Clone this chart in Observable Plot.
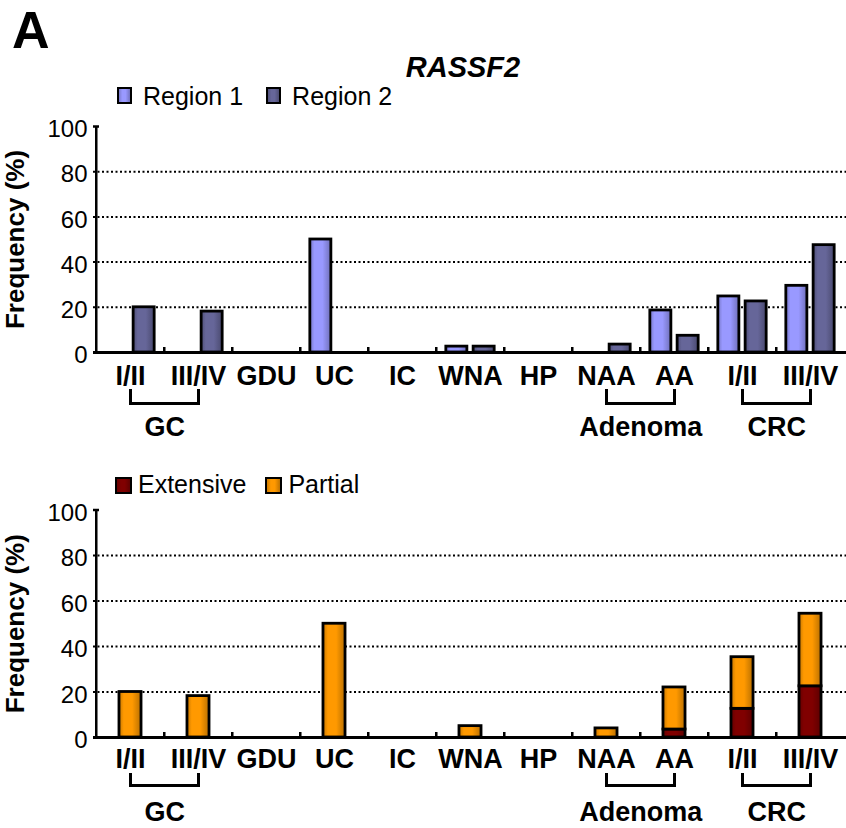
<!DOCTYPE html>
<html><head><meta charset="utf-8">
<script src="https://cdn.jsdelivr.net/npm/d3@7"></script>
<script src="https://cdn.jsdelivr.net/npm/@observablehq/plot@0.6"></script>
<style>
body{margin:0;background:#fff;}
#fig{position:relative;width:846px;height:828px;background:#fff;font-family:"Liberation Sans",Arial,sans-serif;color:#000;overflow:hidden}
.abs{position:absolute;white-space:nowrap;line-height:1}
.legend{display:flex;align-items:flex-start;font-size:25px;line-height:25px}
.sw{box-sizing:border-box;border:2px solid #000;display:inline-block;flex:none}
</style></head><body>
<div id="fig">
  <div id="chart1" class="abs" style="left:0;top:100px"></div>
  <div id="chart2" class="abs" style="left:0;top:480px"></div>
  <div class="abs" style="left:12px;top:4px;font-size:52px;font-weight:bold">A</div>
  <div id="title" class="abs" style="left:463px;top:53px;transform:translateX(-50%);font-size:29px;font-weight:bold;font-style:italic"></div>
  <div id="legend1" class="abs legend" style="left:117px;top:84px"></div>
  <div id="legend2" class="abs legend" style="left:115px;top:472px"></div>
</div>
<script>
// ---- data ----
const titleText = "RASSF2";
const yLabel = "Frequency (%)";
const categories = ["GC I/II","GC III/IV","GDU","UC","IC","WNA","HP","NAA","AA","CRC I/II","CRC III/IV"];
const tickLabels = ["I/II","III/IV","GDU","UC","IC","WNA","HP","NAA","AA","I/II","III/IV"];
const regionSeries = ["Region 1","Region 2"];
const region1 = [0,0,0,50,0,2.6,0,0,18.6,24.8,29.5];
const region2 = [20,18.1,0,0,0,2.6,0,3.5,7.4,22.6,47.5];
const extentSeries = ["Extensive","Partial"];
const extensive = [0,0,0,0,0,0,0,0,3.5,12.6,22.5];
const partial = [20,18.2,0,50,0,5,0,4,18.5,22.7,31.9];
const groupLabels = ["GC","Adenoma","CRC"];
const groupFrom = ["GC I/II","NAA","CRC I/II"];
const groupTo = ["GC III/IV","AA","CRC III/IV"];
const yTicks = [0,20,40,60,80,100];
const gridValues = [20,40,60,80];
const regionColors = ["#9999ff","#666699"];
const extentColors = ["#800000","#ff9900"];

// ---- derived tables ----
const data1 = categories.flatMap((k,i)=>[
  {key:k, series:regionSeries[0], value:region1[i]},
  {key:k, series:regionSeries[1], value:region2[i]}]);
const data2 = categories.flatMap((k,i)=>[
  {key:k, series:extentSeries[0], value:extensive[i]},
  {key:k, series:extentSeries[1], value:partial[i]}]);
const cats = categories.map((k,i)=>({key:k, label:tickLabels[i]}));
const groups = groupLabels.map((g,i)=>({label:g, from:groupFrom[i], to:groupTo[i]}));

// ---- layout ----
const W = 846, ML = 93, MR = 0;
const bw = (W - ML - MR) / categories.length;
const font = "'Liberation Sans', Arial, sans-serif";
const barStroke = 2.8;

function addGradients(svg, ids, colors) {
  const defs = d3.select(svg).insert("defs", ":first-child");
  ids.forEach((id, i) => {
    const c = d3.color(colors[i]);
    const g = defs.append("linearGradient").attr("id", id)
      .attr("x1", 0).attr("x2", 1).attr("y1", 0).attr("y2", 0);
    [[0, c.darker(0.7)], [0.22, c], [0.6, c], [1, c.darker(0.9)]].forEach(([o, col]) =>
      g.append("stop").attr("offset", o).attr("stop-color", col.formatHex()));
  });
}

function commonMarks(o) {
  return [
    Plot.ruleY([0], {stroke:"#000", strokeWidth:3}),
    Plot.ruleX([categories[0]], {y1:0, y2:100, dx:-bw/2, stroke:"#000", strokeWidth:2.5}),
    Plot.ruleY([100], {stroke:"#000", strokeWidth:2.5, insetRight: W - ML - MR - 6}),
    Plot.ruleX(categories.slice(1), {y1:0, y2:0, insetTop:-5, dx:-bw/2, stroke:"#000", strokeWidth:2.5}),
    Plot.text(yTicks, {y:d=>d, text:d=>String(d), frameAnchor:"left", textAnchor:"end", dx:-6, dy:3, fontSize:24}),
    Plot.text([yLabel], {text:d=>d, frameAnchor:"left", textAnchor:"middle", rotate:-90, dx:-78, fontSize:26, fontWeight:"bold"}),
    Plot.text(cats, {x:"key", y:0, text:"label", lineAnchor:"top", dy:o.labelDy, fontSize:27, fontWeight:"bold"}),
    Plot.ruleX(groups.flatMap(g=>[g.from, g.to]), {y1:0, y2:0, insetBottom:-o.brLen, dy:o.brTop, stroke:"#000", strokeWidth:3}),
    Plot.link(groups, {x1:"from", x2:"to", y1:0, y2:0, dy:o.brH, stroke:"#000", strokeWidth:3, strokeLinecap:"square"}),
    Plot.text(groups, {x:"from", y:0, text:"label", dx:bw/2, dy:64, lineAnchor:"top", fontSize:27, fontWeight:"bold"})
  ];
}

// ---- chart 1 ----
const inA = bw/2 - 24.4, inB = bw/2 + 2.9;
const chart1 = Plot.plot({
  width: W, height: 350, marginTop: 26, marginBottom: 98, marginLeft: ML, marginRight: MR,
  style: {fontFamily: font, background: "transparent", overflow: "visible", color: "#000"},
  x: {domain: categories, padding: 0, axis: null},
  y: {domain: [0, 100], axis: null},
  marks: [
    Plot.ruleY(gridValues, {stroke:"#000", strokeWidth:2, strokeDasharray:"2 2.5"}),
    Plot.barY(data1.filter(d=>d.series===regionSeries[0] && d.value>0),
      {x:"key", y:"value", fill:"url(#g-r1)", stroke:"#000", strokeWidth:barStroke, insetLeft:inA, insetRight:inB}),
    Plot.barY(data1.filter(d=>d.series===regionSeries[1] && d.value>0),
      {x:"key", y:"value", fill:"url(#g-r2)", stroke:"#000", strokeWidth:barStroke, insetLeft:inB, insetRight:inA}),
    ...commonMarks({labelDy:13, brTop:37, brLen:15, brH:51})
  ]
});
addGradients(chart1, ["g-r1","g-r2"], regionColors);
document.getElementById("chart1").append(chart1);

// ---- chart 2 ----
const inS = (bw - 22.5) / 2;
const chart2 = Plot.plot({
  width: W, height: 348, marginTop: 29.5, marginBottom: 91, marginLeft: ML, marginRight: MR,
  style: {fontFamily: font, background: "transparent", overflow: "visible", color: "#000"},
  x: {domain: categories, padding: 0, axis: null},
  y: {domain: [0, 100], axis: null},
  color: {domain: extentSeries, range: ["url(#g-ext)", "url(#g-par)"]},
  marks: [
    Plot.ruleY(gridValues, {stroke:"#000", strokeWidth:2, strokeDasharray:"2 2.5"}),
    Plot.barY(data2.filter(d=>d.value>0),
      {x:"key", y:"value", z:"series", fill:"series", stroke:"#000", strokeWidth:barStroke, insetLeft:inS, insetRight:inS}),
    ...commonMarks({labelDy:11, brTop:36, brLen:13, brH:48})
  ]
});
addGradients(chart2, ["g-ext","g-par"], extentColors);
document.getElementById("chart2").append(chart2);

// ---- title & legends ----
document.getElementById("title").textContent = titleText;
function legend(el, names, colors, cfg) {
  const box = d3.select(el);
  names.forEach((n, i) => {
    box.append("span").attr("class", "sw")
      .style("width", cfg.sw + "px").style("height", cfg.sh + "px")
      .style("margin-top", cfg.st + "px")
      .style("margin-left", (i === 0 ? 0 : cfg.gap) + "px")
      .style("background", `linear-gradient(to right, ${d3.color(colors[i]).darker(0.6)}, ${colors[i]} 30%, ${colors[i]} 60%, ${d3.color(colors[i]).darker(0.8)})`);
    box.append("span").style("margin-left", cfg.tg + "px").text(n);
  });
}
legend("#legend1", regionSeries, regionColors, {sw:15, sh:17, st:3, gap:23, tg:11});
legend("#legend2", extentSeries, extentColors, {sw:17, sh:17, st:5, gap:19, tg:6});
</script>
</body></html>
